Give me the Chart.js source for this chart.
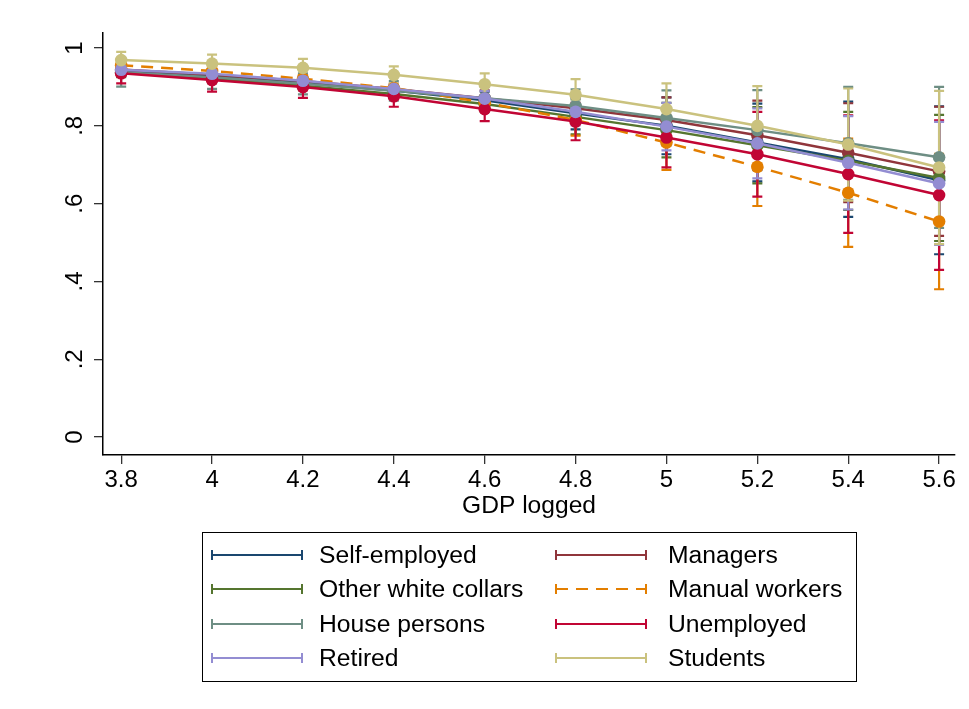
<!DOCTYPE html>
<html>
<head>
<meta charset="utf-8">
<title>Predicted probability by GDP logged</title>
<script src="https://cdn.jsdelivr.net/npm/chart.js@4/dist/chart.umd.min.js"></script>
<style>
  html, body { margin: 0; padding: 0; background: #fff; }
  #wrap { position: relative; width: 969px; height: 709px; overflow: hidden; }
  #chart { position: absolute; left: 0; top: 0; }
  #legendBox { position: absolute; left: 202px; top: 532px; width: 655px; height: 150px;
               border: 1px solid #000; box-sizing: border-box; }
  .lg-sym { position: absolute; }
  .lg-text { position: absolute; font-family: "Liberation Sans", Arial, sans-serif; font-size: 24.7px;
             line-height: 28px; color: #000; white-space: nowrap; }
</style>
</head>
<body>
<div id="wrap">
  <canvas id="chart" width="969" height="709"></canvas>
  <div id="legendBox"></div>
</div>
<script>
// x positions (GDP logged) and axis tick labels
const gdpLogged    = [3.8, 4.0, 4.2, 4.4, 4.6, 4.8, 5.0, 5.2, 5.4, 5.6];
const xTickLabels  = ['3.8', '4', '4.2', '4.4', '4.6', '4.8', '5', '5.2', '5.4', '5.6'];
const yTickValues  = [0, 0.2, 0.4, 0.6, 0.8, 1];
const yTickLabels  = ['0', '.2', '.4', '.6', '.8', '1'];

// predicted margins and half-widths of the 95% confidence intervals
const selfEmployed       = [0.942, 0.927, 0.911, 0.891, 0.866, 0.832, 0.800, 0.757, 0.714, 0.660];
const selfEmployedCI     = [0.015, 0.014, 0.013, 0.014, 0.022, 0.041, 0.073, 0.100, 0.148, 0.190];
const managers           = [0.945, 0.931, 0.915, 0.895, 0.871, 0.845, 0.815, 0.776, 0.731, 0.683];
const managersCI         = [0.012, 0.012, 0.012, 0.013, 0.020, 0.035, 0.058, 0.089, 0.127, 0.166];
const otherWhiteCollars  = [0.937, 0.921, 0.903, 0.882, 0.856, 0.823, 0.789, 0.750, 0.710, 0.666];
const otherWhiteCollarsCI= [0.012, 0.011, 0.011, 0.012, 0.020, 0.045, 0.070, 0.098, 0.126, 0.162];
const manualWorkers      = [0.956, 0.941, 0.921, 0.897, 0.860, 0.815, 0.757, 0.695, 0.628, 0.554];
const manualWorkersCI    = [0.010, 0.010, 0.009, 0.010, 0.018, 0.040, 0.070, 0.101, 0.139, 0.174];
const housePersons       = [0.938, 0.925, 0.908, 0.890, 0.871, 0.851, 0.820, 0.789, 0.755, 0.719];
const housePersonsCI     = [0.037, 0.030, 0.027, 0.025, 0.030, 0.043, 0.071, 0.103, 0.145, 0.181];
const unemployed         = [0.935, 0.918, 0.900, 0.876, 0.843, 0.811, 0.770, 0.727, 0.676, 0.622];
const unemployedCI       = [0.026, 0.030, 0.028, 0.027, 0.031, 0.048, 0.077, 0.109, 0.151, 0.192];
const retired            = [0.944, 0.934, 0.916, 0.895, 0.870, 0.836, 0.798, 0.755, 0.705, 0.652];
const retiredCI          = [0.012, 0.012, 0.012, 0.013, 0.020, 0.035, 0.061, 0.090, 0.120, 0.158];
const students           = [0.969, 0.960, 0.949, 0.931, 0.907, 0.880, 0.843, 0.800, 0.752, 0.693];
const studentsCI         = [0.021, 0.023, 0.023, 0.022, 0.028, 0.040, 0.066, 0.102, 0.144, 0.197];

const series = [
  { label: 'Self-employed',       values: selfEmployed,      ci: selfEmployedCI,      color: '#1a476f' },
  { label: 'Managers',            values: managers,          ci: managersCI,          color: '#90353b' },
  { label: 'Other white collars', values: otherWhiteCollars, ci: otherWhiteCollarsCI, color: '#55752f' },
  { label: 'Manual workers',      values: manualWorkers,     ci: manualWorkersCI,     color: '#e37e00', dash: [12, 8] },
  { label: 'House persons',       values: housePersons,      ci: housePersonsCI,      color: '#6e8e84' },
  { label: 'Unemployed',          values: unemployed,        ci: unemployedCI,        color: '#c10534' },
  { label: 'Retired',             values: retired,           ci: retiredCI,           color: '#938dd2' },
  { label: 'Students',            values: students,          ci: studentsCI,          color: '#cac27e' }
];

const FONT = '"Liberation Sans", Arial, sans-serif';

// confidence-interval caps, drawn beneath the connected lines
const ciCaps = {
  id: 'ciCaps',
  beforeDatasetsDraw(chart) {
    const { ctx, scales: { x, y } } = chart;
    ctx.save();
    ctx.lineWidth = 2.2;
    ctx.setLineDash([]);
    series.forEach(s => {
      ctx.strokeStyle = s.color;
      s.values.forEach((v, j) => {
        const px = x.getPixelForValue(gdpLogged[j]);
        const lo = y.getPixelForValue(v - s.ci[j]);
        const hi = y.getPixelForValue(v + s.ci[j]);
        ctx.beginPath();
        ctx.moveTo(px, lo); ctx.lineTo(px, hi);
        ctx.moveTo(px - 5, lo); ctx.lineTo(px + 5, lo);
        ctx.moveTo(px - 5, hi); ctx.lineTo(px + 5, hi);
        ctx.stroke();
      });
    });
    ctx.restore();
  }
};

// vertical (rotated) y-axis tick labels
const yAxisLabels = {
  id: 'yAxisLabels',
  afterDraw(chart) {
    const { ctx, scales: { y } } = chart;
    ctx.save();
    ctx.font = '24px ' + FONT;
    ctx.fillStyle = '#000';
    ctx.textAlign = 'center';
    ctx.textBaseline = 'middle';
    yTickValues.forEach((v, i) => {
      ctx.save();
      ctx.translate(y.left + 75, y.getPixelForValue(v));
      ctx.rotate(-Math.PI / 2);
      ctx.fillText(yTickLabels[i], 0, 0);
      ctx.restore();
    });
    ctx.restore();
  }
};

new Chart(document.getElementById('chart'), {
  type: 'line',
  data: {
    datasets: series.map((s, i) => ({
      label: s.label,
      data: gdpLogged.map((g, j) => ({ x: g, y: s.values[j] })),
      borderColor: s.color,
      backgroundColor: s.color,
      borderWidth: 2.5,
      borderDash: s.dash || [],
      pointRadius: 6.3,
      pointHoverRadius: 6.3,
      pointBorderWidth: 0,
      pointBackgroundColor: s.color,
      tension: 0,
      order: series.length - i,
      clip: false
    }))
  },
  options: {
    responsive: false,
    animation: false,
    devicePixelRatio: 1,
    layout: { padding: { left: 0, top: 33, right: 14, bottom: 188 } },
    plugins: { legend: { display: false }, tooltip: { enabled: false } },
    scales: {
      x: {
        type: 'linear',
        min: 3.76,
        max: 5.635,
        afterBuildTicks: sc => { sc.ticks = gdpLogged.map(v => ({ value: v })); },
        afterFit: sc => { sc.height = 66; },
        ticks: {
          callback: (v, i) => xTickLabels[i],
          font: { family: FONT, size: 24 },
          color: '#000',
          padding: 2,
          maxRotation: 0,
          autoSkip: false
        },
        grid: { drawOnChartArea: false, drawTicks: true, tickLength: 9, color: '#333', lineWidth: 1.3 },
        border: { display: true, color: '#000', width: 1.5 },
        title: { display: true, text: 'GDP logged', font: { family: FONT, size: 24.6 }, color: '#000', padding: { top: 0, bottom: 0 } }
      },
      y: {
        type: 'linear',
        min: -0.046,
        max: 1.0386,
        afterBuildTicks: sc => { sc.ticks = yTickValues.map(v => ({ value: v })); },
        afterFit: sc => { sc.width = 103; },
        ticks: { display: false },
        grid: { drawOnChartArea: false, drawTicks: true, tickLength: 9, color: '#333', lineWidth: 1.3 },
        border: { display: true, color: '#000', width: 1.5 }
      }
    }
  },
  plugins: [ciCaps, yAxisLabels]
});

// legend: two columns, filled row by row
const wrap = document.getElementById('wrap');
series.forEach((s, i) => {
  const col = i % 2, row = Math.floor(i / 2);
  const cy = 555 + row * 34.3;
  const symX = col ? 556 : 212;
  const textX = col ? 668 : 319;
  const ns = 'http://www.w3.org/2000/svg';
  const svg = document.createElementNS(ns, 'svg');
  svg.setAttribute('width', 94);
  svg.setAttribute('height', 14);
  svg.setAttribute('class', 'lg-sym');
  svg.style.left = (symX - 2) + 'px';
  svg.style.top = (cy - 7) + 'px';
  const mk = (x1, y1, x2, y2, dash) => {
    const l = document.createElementNS(ns, 'line');
    l.setAttribute('x1', x1); l.setAttribute('y1', y1);
    l.setAttribute('x2', x2); l.setAttribute('y2', y2);
    l.setAttribute('stroke', s.color); l.setAttribute('stroke-width', 2);
    if (dash) l.setAttribute('stroke-dasharray', dash.join(' '));
    svg.appendChild(l);
  };
  mk(2, 7, 92, 7, s.dash);
  mk(2, 2, 2, 12);
  mk(92, 2, 92, 12);
  wrap.appendChild(svg);
  const t = document.createElement('div');
  t.className = 'lg-text';
  t.textContent = s.label;
  t.style.left = textX + 'px';
  t.style.top = (cy - 14) + 'px';
  wrap.appendChild(t);
});
</script>
</body>
</html>
